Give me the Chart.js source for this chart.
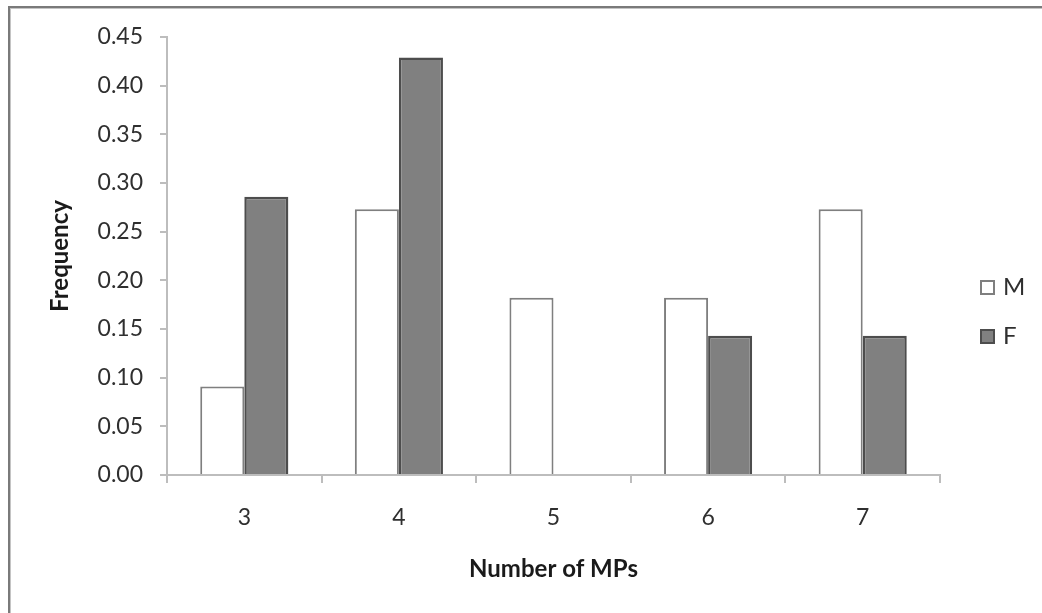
<!DOCTYPE html>
<html>
<head>
<meta charset="utf-8">
<script src="https://cdn.jsdelivr.net/npm/chart.js@4/dist/chart.umd.min.js"></script>
<style>
  html, body { margin: 0; padding: 0; background: #fff; }
  body { width: 1042px; height: 613px; position: relative; overflow: hidden; }
  #frame {
    position: absolute; left: 8px; top: 6px; width: 1100px; height: 700px;
    border-left: 2px solid #7a7a7a; border-top: 2px solid #7a7a7a;
    box-shadow: inset 1px 1px 0 #c4c4c4;
  }
  #chart { position: absolute; left: 0; top: 0; }
</style>
</head>
<body>
<div id="frame"></div>
<canvas id="chart" width="1042" height="613"></canvas>
<script>
// Number of MPs per group and the frequency for each sex
const categories = ['3', '4', '5', '6', '7'];
const maleFreq   = [0.091, 0.273, 0.182, 0.182, 0.273];
const femaleFreq = [0.286, 0.429, 0.000, 0.143, 0.143];
const seriesNames = ['M', 'F'];
const yMin = 0, yMax = 0.45, yStep = 0.05;

const FONT = 'Lato, "Open Sans", sans-serif';
const AXIS_GREY = '#bdbdbd';
const TEXT_GREY = '#2f2f2f';

// Legend drawn beside the plot: square swatch followed by the series name
const sideLegend = {
  id: 'sideLegend',
  afterDraw(chart) {
    const ctx = chart.ctx;
    const boxX = 980, firstTop = 280, rowGap = 49, box = 15;
    ctx.save();
    ctx.font = '24px ' + FONT;
    ctx.textBaseline = 'alphabetic';
    ctx.textAlign = 'left';
    chart.data.datasets.forEach((ds, i) => {
      const top = firstTop + i * rowGap;
      ctx.fillStyle = ds.backgroundColor;
      ctx.fillRect(boxX, top, box, box);
      ctx.lineWidth = 2;
      ctx.strokeStyle = ds.borderColor;
      ctx.strokeRect(boxX + 1, top + 1, box - 2, box - 2);
      ctx.fillStyle = TEXT_GREY;
      ctx.fillText(ds.label, boxX + 23, top + 15);
    });
    ctx.restore();
  }
};

new Chart(document.getElementById('chart'), {
  type: 'bar',
  data: {
    labels: categories,
    datasets: [
      {
        label: seriesNames[0],
        data: maleFreq,
        backgroundColor: '#ffffff',
        borderColor: '#7f7f7f',
        borderWidth: 2,
        borderSkipped: 'start'
      },
      {
        label: seriesNames[1],
        data: femaleFreq,
        backgroundColor: '#808080',
        borderColor: '#4d4d4d',
        borderWidth: 2.5,
        borderSkipped: 'start'
      }
    ]
  },
  options: {
    responsive: false,
    devicePixelRatio: 1,
    animation: false,
    layout: { padding: { left: 0, top: 37, right: 102, bottom: 0 } },
    datasets: {
      bar: { categoryPercentage: 0.57, barPercentage: 1.0 }
    },
    plugins: {
      legend: { display: false },
      tooltip: { enabled: false }
    },
    scales: {
      x: {
        offset: true,
        afterFit(scale) { scale.height = 138; },
        grid: {
          offset: true,
          drawOnChartArea: false,
          drawTicks: true,
          tickLength: 8,
          color: AXIS_GREY,
          lineWidth: 2
        },
        border: { display: true, color: AXIS_GREY, width: 2 },
        ticks: {
          color: TEXT_GREY,
          font: { family: FONT, size: 23 },
          padding: 21,
          maxRotation: 0
        },
        title: {
          display: true,
          text: 'Number of MPs',
          color: '#1a1a1a',
          font: { family: FONT, size: 24, weight: 'bold' },
          padding: { top: 0, bottom: 29 }
        }
      },
      y: {
        min: yMin,
        max: yMax,
        afterFit(scale) { scale.width = 167; },
        grid: {
          drawOnChartArea: false,
          drawTicks: true,
          tickLength: 7,
          color: AXIS_GREY,
          lineWidth: 2
        },
        border: { display: true, color: AXIS_GREY, width: 2 },
        ticks: {
          stepSize: yStep,
          color: TEXT_GREY,
          font: { family: FONT, size: 23 },
          padding: 17,
          callback: v => Number(v).toFixed(2)
        },
        title: {
          display: true,
          text: 'Frequency',
          color: '#1a1a1a',
          font: { family: FONT, size: 24, weight: 'bold' },
          padding: { top: 46, bottom: 0 }
        }
      }
    }
  },
  plugins: [sideLegend]
});
</script>
</body>
</html>
